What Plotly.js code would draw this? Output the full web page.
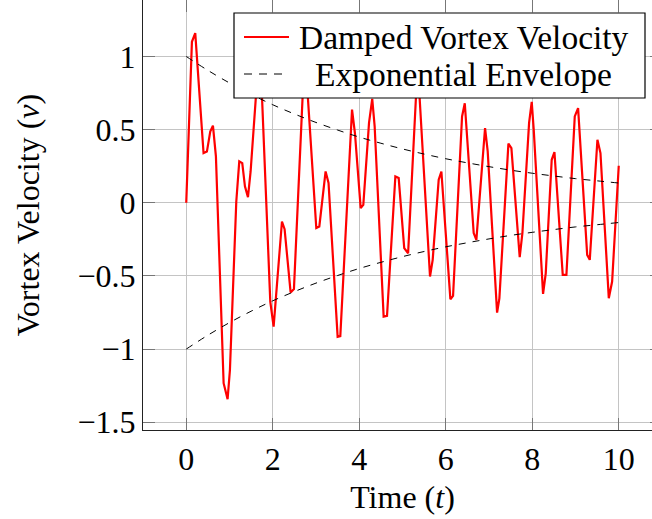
<!DOCTYPE html>
<html><head><meta charset="utf-8">
<script src="https://cdn.plot.ly/plotly-3.0.1.min.js"></script>
<style>html,body{margin:0;padding:0;overflow:hidden;background:#fff}#c{width:680px;height:519px}
#c svg text{font-family:'Liberation Serif' !important}</style>
</head><body><div id="c"></div>
<script>
// Damped vortex velocity (vertices)
const tVel = [0, 0.131, 0.208, 0.40, 0.478, 0.555, 0.617, 0.686, 0.864, 0.956, 1.01, 1.157, 1.226, 1.295, 1.357, 1.427, 1.488, 1.70, 1.943, 2.02, 2.213, 2.274, 2.413, 2.49, 2.74, 3.007, 3.077, 3.222, 3.29, 3.50, 3.562, 3.833, 3.90, 4.033, 4.094, 4.226, 4.30, 4.356, 4.564, 4.642, 4.835, 4.912, 5.04, 5.13, 5.35, 5.636, 5.698, 5.837, 5.899, 6.107, 6.169, 6.377, 6.44, 6.646, 6.708, 6.909, 6.97, 7.187, 7.24, 7.449, 7.518, 7.71, 7.772, 7.927, 7.988, 8.034, 8.25, 8.312, 8.45, 8.513, 8.705, 8.79, 8.983, 9.06, 9.27, 9.33, 9.507, 9.577, 9.77, 9.847, 10.0];
const vel = [0, 1.10, 1.16, 0.34, 0.35, 0.487, 0.527, 0.317, -1.233, -1.342, -1.143, 0.009, 0.283, 0.271, 0.112, 0.039, 0.214, 1.10, -0.675, -0.846, -0.128, -0.18, -0.613, -0.59, 1.05, -0.173, -0.162, 0.214, 0.135, -0.916, -0.911, 0.637, 0.477, -0.036, -0.014, 0.546, 0.71, 0.523, -0.778, -0.773, 0.18, 0.169, -0.31, -0.345, 0.95, -0.504, -0.39, 0.158, 0.214, -0.659, -0.636, 0.59, 0.68, -0.207, -0.253, 0.511, 0.351, -0.751, -0.653, 0.404, 0.374, -0.372, -0.208, 0.546, 0.69, 0.5, -0.623, -0.482, 0.294, 0.347, -0.493, -0.493, 0.59, 0.647, -0.356, -0.39, 0.431, 0.34, -0.652, -0.538, 0.253];
// Exponential envelope
const tEnv = [0, 0.5, 1, 1.5, 2, 2.5, 3, 3.5, 4, 4.5, 5, 5.5, 6, 6.5, 7, 7.5, 8, 8.5, 9, 9.5, 10];
const envUpper = [1.0, 0.905, 0.819, 0.741, 0.670, 0.607, 0.549, 0.497, 0.449, 0.407, 0.368, 0.333, 0.301, 0.273, 0.247, 0.223, 0.202, 0.183, 0.165, 0.150, 0.135];
const envLower = [-1.0, -0.905, -0.819, -0.741, -0.670, -0.607, -0.549, -0.497, -0.449, -0.407, -0.368, -0.333, -0.301, -0.273, -0.247, -0.223, -0.202, -0.183, -0.165, -0.150, -0.135];
const xTicks = [0, 2, 4, 6, 8, 10];
const yTicks = [-1.5, -1, -0.5, 0, 0.5, 1];
const legendNames = ["Damped Vortex Velocity", "Exponential Envelope"];

const FONT = "Liberation Serif";
const FS = 32;
const W = 680, H = 519, ML = 143, MR = 18, MT = 0, MB = 89;
const PW = W - ML - MR, PH = H - MT - MB;
const px = x => (x - ML) / PW;
const py = y => (H - MB - y) / PH;

const traces = [
  {x: tVel, y: vel, mode: 'lines', line: {color: '#ff0000', width: 2.2}, showlegend: false, hoverinfo: 'skip'},
  {x: tEnv, y: envUpper, mode: 'lines', line: {color: '#000', width: 1, dash: '7px,7px', shape: 'spline'}, showlegend: false, hoverinfo: 'skip'},
  {x: tEnv, y: envLower, mode: 'lines', line: {color: '#000', width: 1, dash: '7px,7px', shape: 'spline'}, showlegend: false, hoverinfo: 'skip'}
];

const axisCommon = {
  showgrid: true, gridcolor: '#c4c4c4', gridwidth: 1,
  showline: true, linecolor: '#222', linewidth: 1.2, mirror: 'ticks',
  ticks: 'inside', ticklen: 12, tickcolor: '#777', tickwidth: 1,
  zeroline: false, tickfont: {family: FONT, size: FS, color: '#000'}
};

const layout = {
  width: W, height: H,
  margin: {l: ML, r: MR, t: MT, b: MB},
  paper_bgcolor: '#fff', plot_bgcolor: '#fff',
  showlegend: false,
  xaxis: Object.assign({}, axisCommon, {
    range: [-1, 11], tickvals: xTicks, ticktext: xTicks.map(String),
    title: {text: 'Time (<i>t</i>)', font: {family: FONT, size: FS, color: '#000'}, standoff: 10}
  }),
  yaxis: Object.assign({}, axisCommon, {
    range: [-1.553, 1.386], tickvals: yTicks,
    title: {text: 'Vortex Velocity (<i>v</i>)', font: {family: FONT, size: FS, color: '#000'}, standoff: 28}
  }),
  shapes: [
    {type: 'rect', xref: 'paper', yref: 'paper', x0: px(234), x1: px(645), y0: py(98), y1: py(13),
     fillcolor: '#fff', line: {color: '#000', width: 1.2}, layer: 'above'},
    {type: 'line', xref: 'paper', yref: 'paper', x0: px(244), x1: px(289), y0: py(37), y1: py(37),
     line: {color: '#ff0000', width: 2.2}},
    {type: 'line', xref: 'paper', yref: 'paper', x0: px(244), x1: px(289), y0: py(74), y1: py(74),
     line: {color: '#000', width: 1, dash: '8px,7px'}}
  ],
  annotations: [
    {xref: 'paper', yref: 'paper', x: px(463.5), y: py(37), text: legendNames[0], showarrow: false,
     xanchor: 'center', yanchor: 'middle', font: {family: FONT, size: 33.5, color: '#000'}},
    {xref: 'paper', yref: 'paper', x: px(463.5), y: py(74), text: legendNames[1], showarrow: false,
     xanchor: 'center', yanchor: 'middle', font: {family: FONT, size: 33.5, color: '#000'}}
  ]
};

Plotly.newPlot('c', traces, layout, {displayModeBar: false});
</script></body></html>
